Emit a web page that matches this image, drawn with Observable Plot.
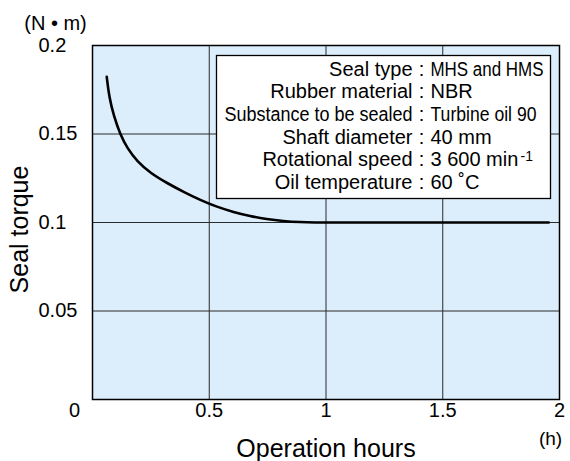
<!DOCTYPE html>
<html><head><meta charset="utf-8">
<script src="https://cdn.jsdelivr.net/npm/d3@7"></script>
<script src="https://cdn.jsdelivr.net/npm/@observablehq/plot@0.6"></script>
<style>body{margin:0;background:#fff;} #chart svg{font-family:"Liberation Sans",Arial,sans-serif;}</style>
</head><body><div id="chart"></div>
<script>
// Data
const hours  = [0.061, 0.071, 0.092, 0.118, 0.149, 0.192, 0.249, 0.32, 0.39, 0.462, 0.533, 0.604, 0.675, 0.746, 0.817, 0.888, 0.96, 1.0, 1.2, 1.5, 1.954];
const torque = [0.1823, 0.171, 0.1598, 0.15, 0.1419, 0.1344, 0.1278, 0.1222, 0.1173, 0.1127, 0.1088, 0.1059, 0.1036, 0.1019, 0.1008, 0.1002, 0.1, 0.1, 0.1, 0.1, 0.1];
const xTicks = [0.5, 1, 1.5, 2];
const xTickLabels = ["0.5", "1", "1.5", "2"];
const yTicks = [0.05, 0.1, 0.15, 0.2];
const yTickLabels = ["0.05", "0.1", "0.15", "0.2"];
const xGrid = [0.5, 1, 1.5];
const yGrid = [0.05, 0.1, 0.15];
const legendLabels = ["Seal type", "Rubber material", "Substance to be sealed", "Shaft diameter", "Rotational speed", "Oil temperature"];
const legendValues = ["MHS and HMS", "NBR", "Turbine oil 90", "40 mm", "3 600 min", "60 \u02DAC"];
const legendSup = "-1";

const rows = hours.map((h, i) => ({h, t: torque[i]}));
// condensed widths (style)
const condensed = {"Substance to be sealed": 188, "MHS and HMS": 113, "Turbine oil 90": 106};

const lineDy = i => 30 + i * 22.7;

const chart = Plot.plot({
  width: 570, height: 461,
  marginLeft: 92, marginRight: 11, marginTop: 45, marginBottom: 62,
  x: {domain: [0, 2], axis: null},
  y: {domain: [0, 0.2], axis: null},
  marks: [
    Plot.frame({fill: "#dcedfb", stroke: "none"}),
    Plot.ruleX(xGrid, {stroke: "#2a2a2a", strokeWidth: 1}),
    Plot.ruleY(yGrid, {stroke: "#2a2a2a", strokeWidth: 1}),
    Plot.frame({insetLeft: 124, insetTop: 10, insetRight: 9, insetBottom: 201, fill: "white", stroke: "black", strokeWidth: 1.3}),
    Plot.line(rows, {x: "h", y: "t", stroke: "black", strokeWidth: 2.6, curve: "basis"}),
    Plot.frame({stroke: "black", strokeWidth: 1.5}),
    // y tick labels
    Plot.text(yTicks, {y: d => d, text: (d, i) => yTickLabels[i], frameAnchor: "left", dx: -54, textAnchor: "start", lineAnchor: "middle", fontSize: 20, fill: "black"}),
    // x tick labels
    Plot.text(xTicks, {x: d => d, text: (d, i) => xTickLabels[i], frameAnchor: "bottom", dy: 11, textAnchor: "middle", lineAnchor: "middle", fontSize: 20, fill: "black"}),
    Plot.text([0], {x: d => d, text: () => "0", frameAnchor: "bottom", dx: -18, dy: 11, textAnchor: "middle", lineAnchor: "middle", fontSize: 20, fill: "black"}),
    // axis titles
    Plot.text(["Seal torque"], {text: d => d, frameAnchor: "left", dx: -73, dy: 7, rotate: -90, textAnchor: "middle", lineAnchor: "middle", fontSize: 25, fill: "black"}),
    Plot.text(["Operation hours"], {text: d => d, frameAnchor: "bottom", dy: 49, textAnchor: "middle", lineAnchor: "middle", fontSize: 25, fill: "black"}),
    Plot.text(["(N \u2022 m)"], {text: d => d, frameAnchor: "top-left", dx: -37, dy: -22, textAnchor: "middle", lineAnchor: "middle", fontSize: 20, fill: "black"}),
    Plot.text(["(h)"], {text: d => d, frameAnchor: "bottom-right", dx: -9, dy: 39, textAnchor: "middle", lineAnchor: "middle", fontSize: 19, fill: "black"}),
    // legend box text
    ...legendLabels.map((t, i) => Plot.text([t], {text: d => d, frameAnchor: "top-left", dx: 320, dy: lineDy(i), textAnchor: "end", lineAnchor: "bottom", fontSize: 20, fill: "black"})),
    ...legendLabels.map((t, i) => Plot.text([":"], {text: d => d, frameAnchor: "top-left", dx: 329, dy: lineDy(i), textAnchor: "middle", lineAnchor: "bottom", fontSize: 20, fill: "black"})),
    ...legendValues.map((t, i) => Plot.text([t], {text: d => d, frameAnchor: "top-left", dx: 338, dy: lineDy(i), textAnchor: "start", lineAnchor: "bottom", fontSize: 20, fill: "black"})),
    Plot.text([legendSup], {text: d => d, frameAnchor: "top-left", dx: 428, dy: lineDy(4) - 5, textAnchor: "start", lineAnchor: "bottom", fontSize: 14, fill: "black"})
  ]
});

d3.select(chart).selectAll("text").each(function() {
  const w = condensed[this.textContent];
  if (w) { this.setAttribute("textLength", w); this.setAttribute("lengthAdjust", "spacingAndGlyphs"); }
});
document.getElementById("chart").appendChild(chart);
</script>
</body></html>
